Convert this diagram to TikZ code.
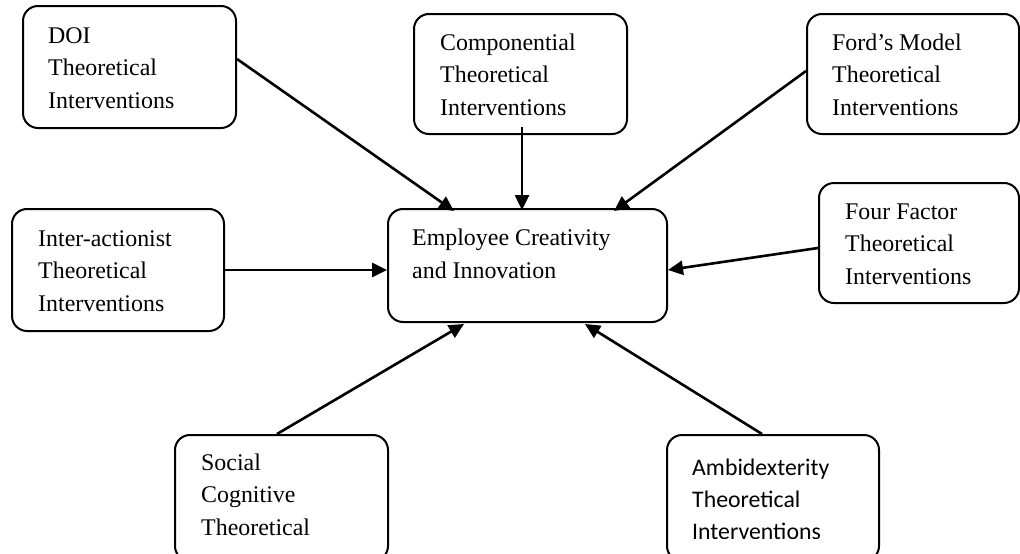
\documentclass[tikz,border=0pt]{standalone}
\usepackage{fontspec}
\setmainfont{Liberation Serif}
\newfontfamily\calib{Carlito}
\usetikzlibrary{arrows.meta}
\tikzset{
  box/.style={draw, line width=2pt, rounded corners=15pt, inner sep=0pt, anchor=north west},
  txt/.style={anchor=base west, align=left, inner sep=0pt, font=\fontsize{23.9}{32.3}\selectfont},
  arr/.style={line width=2.6pt, -{Triangle[length=15pt,width=14pt]}},
}
\begin{document}
\begin{tikzpicture}[x=1pt,y=-1pt]
\clip (0,0) rectangle (1020,554);
% boxes
\node[box, minimum width=213pt, minimum height=122pt] (doi) at (22,5) {};
\node[box, minimum width=213pt, minimum height=120pt] (comp) at (413,13) {};
\node[box, minimum width=212pt, minimum height=120pt] (ford) at (806,13) {};
\node[box, minimum width=212pt, minimum height=122pt] (inter) at (11,208) {};
\node[box, minimum width=279pt, minimum height=113pt] (ctr) at (387,208) {};
\node[box, minimum width=200pt, minimum height=120pt] (four) at (818,182) {};
\node[box, minimum width=213pt, minimum height=126pt] (soc) at (174,434) {};
\node[box, minimum width=212pt, minimum height=126pt] (amb) at (666,434) {};
% texts (anchored at the baseline of the last line)
\node[txt] (doit) at (48,108) {DOI\\Theoretical\\Interventions};
\node[txt] (compt) at (440,115) {Componential\\Theoretical\\Interventions};
\node[txt] (fordt) at (832,115) {Ford’s Model\\Theoretical\\Interventions};
\node[txt] (fourt) at (845,284) {Four Factor\\Theoretical\\Interventions};
\node[txt] (intert) at (38,311) {Inter-actionist\\Theoretical\\Interventions};
\node[txt] (ctrt) at (412,278) {Employee Creativity\\and Innovation};
\node[txt] (soct) at (201,535) {Social\\Cognitive\\Theoretical};
\begin{scope}
\clip (660,440) rectangle (900,538);
\node[txt, font=\calib\fontsize{23.8}{32}\selectfont] (ambt) at (692,539) {Ambidexterity\\Theoretical\\Interventions};
\end{scope}
% connectors
\draw[arr] ([yshift=8pt]doi.east) -- ([xshift=-73.5pt,yshift=-3pt]ctr.north);
\draw[arr] ([xshift=1.5pt,yshift=8pt]comp.south) -- ([xshift=-5.5pt,yshift=-2pt]ctr.north);
\draw[arr] ([yshift=3pt]ford.west) -- ([xshift=86.5pt,yshift=-3pt]ctr.north);
\draw[arr] (inter.east) -- (inter.east -| ctr.west);
\draw[arr] ([yshift=-5pt]four.west) -- ([yshift=-4.5pt]ctr.east);
\draw[arr] ([xshift=-4.5pt]soc.north) -- ([xshift=-63.5pt,yshift=-1pt]ctr.south);
\draw[arr] ([xshift=-11pt]amb.north) -- ([xshift=57.5pt,yshift=-1pt]ctr.south);
\end{tikzpicture}
\end{document}
